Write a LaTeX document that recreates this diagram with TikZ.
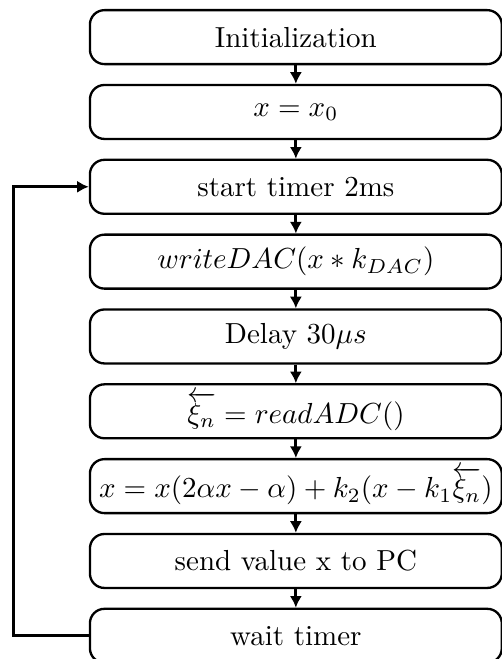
\documentclass[tikz,border=0pt]{standalone}
\usepackage{amssymb}
\usepackage{amsmath}
\usepackage{tikz}
\usetikzlibrary{arrows.meta}
\tikzstyle{stepbox}=[draw, thick, rounded corners=5pt, minimum width=142pt, minimum height=18.6pt, inner sep=1pt]
\tikzstyle{arrow}=[draw=black, line width=1pt, >={Latex[length=4pt, width=4.2pt]}]

\begin{document}
\begin{tikzpicture}
		   \useasboundingbox (0,0) rectangle (172.8pt,-227.2pt);
		   \begin{scope}
			   \node (init) at (102pt, -12.8pt)[stepbox] {Initialization};
			   \node (setx) at (102pt, -38.6pt)[stepbox] {$x = x_0$};
			   \node (start) at (102pt, -64.4pt)[stepbox] {start timer 2ms};
			   \node (dac) at (102pt, -90.2pt)[stepbox] {$writeDAC(x*k_{DAC})$};
			   \node (delay) at (102pt, -116pt)[stepbox] {Delay $30\mu s$};
			   \node (adc) at (102pt, -141.8pt)[stepbox] {$\overleftarrow{\xi_n} = readADC()$};
			   \node (update) at (102pt, -167.6pt)[stepbox] {$x = x(2\alpha x - \alpha) + k_2(x - k_1\overleftarrow{\xi_n})$};
			   \node (send) at (102pt, -193.4pt)[stepbox] {send value x to PC};
			   \node (wait) at (102pt, -219.2pt)[stepbox] {wait timer};
			   \coordinate (loop) at (4.8pt, -219.2pt);
		   \end{scope}
		   \begin{scope}
			   \path [arrow,->] (init) edge (setx);
			   \path [arrow,->] (setx) edge (start);
			   \path [arrow,->] (start) edge (dac);
			   \path [arrow,->] (dac) edge (delay);
			   \path [arrow,->] (delay) edge (adc);
			   \path [arrow,->] (adc) edge (update);
			   \path [arrow,->] (update) edge (send);
			   \path [arrow,->] (send) edge (wait);
			   \draw [arrow,->] (wait.west) -- (loop) |- (start.west);
		   \end{scope}
	   \end{tikzpicture}
\end{document}
